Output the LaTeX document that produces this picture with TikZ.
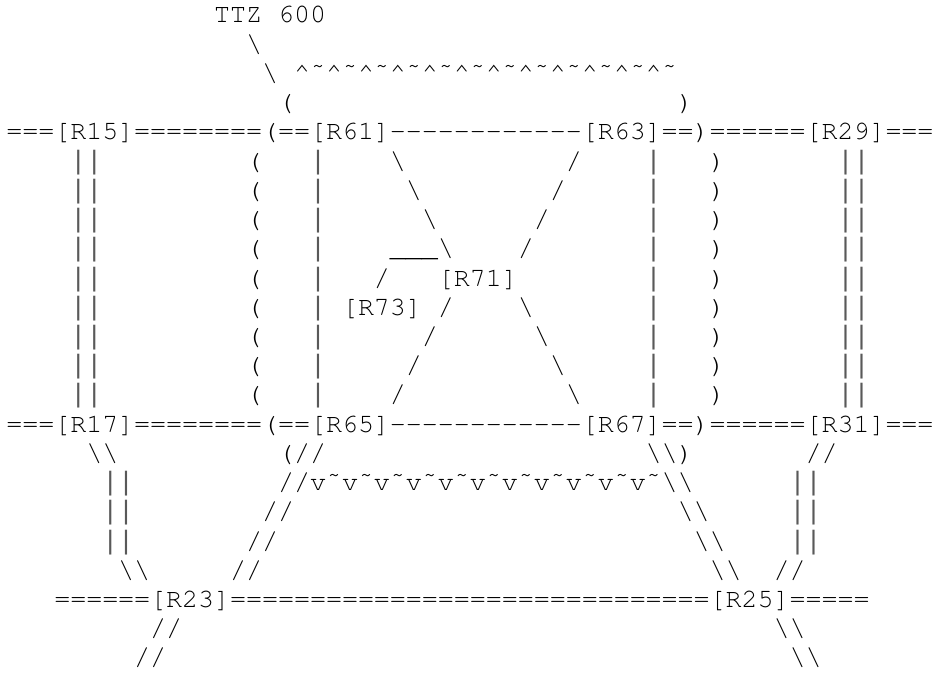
\documentclass[tikz,border=0pt]{standalone}
\usepackage[T1,TU]{fontenc}
\usepackage{fontspec}
\usepackage{tikz}
\newfontfamily\barfam{Liberation Mono}
\newcommand{\asciifont}{\fontencoding{T1}\fontfamily{pcr}\fontsize{20}{20}\selectfont}
\newcommand{\bsl}{\textbackslash}
\newcommand{\asciirep}[2]{\foreach \i in {1,...,#1}{#2}}

\begin{document}
\begin{tikzpicture}[x=12pt,y=21.94pt,a/.style={anchor=base west,inner sep=0pt,font=\asciifont},
  b/.style={a,font=\asciifont\barfam,text=black!65}]
\useasboundingbox (-0.38,0.786) rectangle (58.05,-22.288);
\node[a] (ttz) at (13,0) {TTZ 600};
\node[a] (s1) at (15,-1) {\bsl}; \node[a] (s2) at (16,-2) {\bsl};
\node[a] (up) at (18,-2) {\asciirep{12}{\textasciicircum\~{}}};
\node[a] (lp) at (17,-3) {(}; \node[a] (rp) at (42,-3) {)};
\node[a] (top) at (0,-4) {===[R15]========(==[R61]\asciirep{12}{-{}}[R63]==)======[R29]===};
\foreach \r in {5,...,13} {
  \node[b] (ll\r) at (4,-\r) {||}; \node[a] (lb\r) at (15,-\r) {(}; \node[b] (lv\r) at (19,-\r) {|};
  \node[b] (rv\r) at (40,-\r) {|}; \node[a] (rb\r) at (44,-\r) {)}; \node[b] (rr\r) at (52,-\r) {||};
}
\foreach \r in {5,6,7} \node[a] (dl\r) at (19+\r,-\r) {\bsl};
\foreach \r in {5,...,8} \node[a] (dr\r) at (40-\r,-\r) {/};
\node[a] (hook) at (24,-8) {\_\_\_\bsl};
\node[a] (s3) at (23,-9) {/}; \node[a] (r71) at (27,-9) {[R71]};
\node[a] (r73) at (21,-10) {[R73]};
\foreach \r in {10,...,13} {
  \node[a] (bl\r) at (37-\r,-\r) {/}; \node[a] (br\r) at (22+\r,-\r) {\bsl};
}
\node[a] (mid) at (0,-14) {===[R17]========(==[R65]\asciirep{12}{-{}}[R67]==)======[R31]===};
\node[a] (s4) at (5,-15) {\bsl\bsl}; \node[a] (s5) at (17,-15) {(//};
\node[a] (s6) at (40,-15) {\bsl\bsl)}; \node[a] (s7) at (50,-15) {//};
\node[a] (low) at (17,-16) {//\asciirep{11}{v\~{}}\bsl\bsl};
\foreach \r in {16,17,18} {
  \node[b] (lq\r) at (6,-\r) {||}; \node[b] (rq\r) at (49,-\r) {||};
}
\foreach \r in {17,18,19} {
  \node[a] (fl\r) at (33-\r,-\r) {//}; \node[a] (fr\r) at (25+\r,-\r) {\bsl\bsl};
}
\node[a] (s8) at (7,-19) {\bsl\bsl}; \node[a] (s9) at (48,-19) {//};
\node[a] (bot) at (3,-20) {======[R23]\asciirep{30}{=}[R25]=====};
\node[a] (s10) at (9,-21) {//}; \node[a] (s11) at (48,-21) {\bsl\bsl};
\node[a] (s12) at (8,-22) {//}; \node[a] (s13) at (49,-22) {\bsl\bsl};
\end{tikzpicture}
\end{document}
